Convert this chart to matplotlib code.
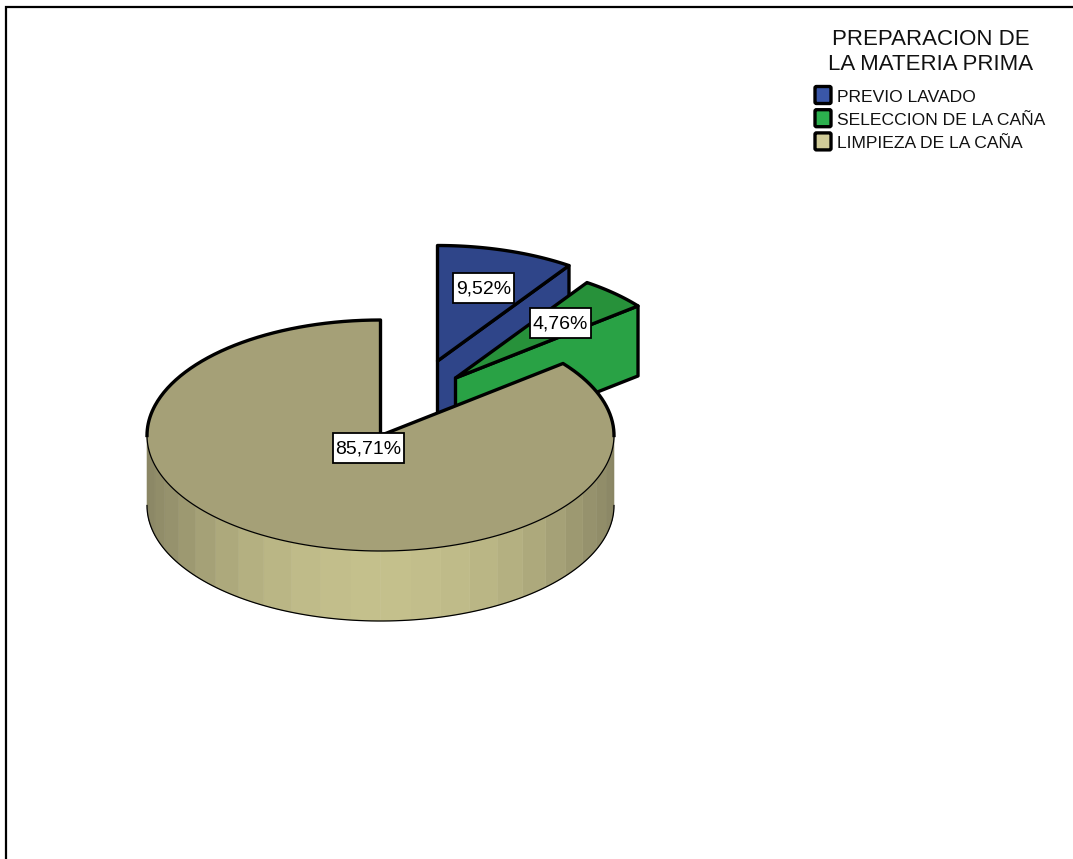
import numpy as np
import matplotlib
matplotlib.use("Agg")
import matplotlib.pyplot as plt
from matplotlib.patches import Polygon, FancyBboxPatch, Rectangle

# --- Data ---
title = "PREPARACION DE\nLA MATERIA PRIMA"
categories = ["PREVIO LAVADO", "SELECCION DE LA CAÑA", "LIMPIEZA DE LA CAÑA"]
shares = [9.52, 4.76, 85.71]

# --- Styles ---
top_colors = ["#2f4589", "#27913a", "#a5a077"]
side_colors = ["#2f4589", "#29a245", "#c4c08c"]
legend_colors = ["#3a57a8", "#2cb04e", "#d0cb98"]
rim_dark = np.array([0x8a, 0x86, 0x64]) / 255
rim_light = np.array([0xc4, 0xc0, 0x8c]) / 255

# --- Layout, in pixels of the 1073x859 picture ---
CX, CY = 380.5, 435.5
RX, RY = 233.5, 115.5
DEPTH = 70
offsets = [(57, -74.5), (75, -57.5), (0, 0)]
label_pos = [(483.5, 288), (560.5, 323), (368.5, 448)]
label_widths = [61, 61, 71]


def arc(start, end, dx=0, dy=0, n=120):
    a = np.radians(np.linspace(start, end, n))
    return np.column_stack((CX + dx + RX * np.sin(a), CY + dy - RY * np.cos(a)))


def point(angle, dx=0, dy=0):
    return arc(angle, angle, dx, dy, 1)[0]


fig = plt.figure(figsize=(10.73, 8.59), dpi=100)
ax = fig.add_axes([0, 0, 1, 1])
ax.set_xlim(0, 1073)
ax.set_ylim(859, 0)
ax.axis("off")

# Frame, open to the right and bottom
ax.plot([6, 6, 1073], [859, 7, 7], color="black", lw=1.6, solid_joinstyle="miter")

edges = np.cumsum([0] + shares) / sum(shares) * 360

# --- Two exploded slices (back to front) ---
for i in range(2):
    dx, dy = offsets[i]
    start, end = edges[i], edges[i + 1]
    apex = np.array([CX + dx, CY + dy])
    outer = point(end, dx, dy)
    # cut face on the clockwise side
    face = [apex, outer, outer + [0, DEPTH], apex + [0, DEPTH]]
    ax.add_patch(Polygon(face, closed=True, fc=side_colors[i], ec="black", lw=2.4,
                         joinstyle="round", zorder=2 + i))
    top = np.vstack(([apex], arc(start, end, dx, dy)))
    ax.add_patch(Polygon(top, closed=True, fc=top_colors[i], ec="black", lw=2.4,
                         joinstyle="round", zorder=2 + i))

# --- Large slice: shaded rim in 7.5 degree bands ---
for a0 in np.arange(90, 270, 7.5):
    shade = abs(np.sin(np.radians(a0 + 3.75))) ** 2.2
    color = rim_light + (rim_dark - rim_light) * shade
    lower = arc(a0, a0 + 7.5, n=12)
    band = np.vstack((lower, (lower + [0, DEPTH])[::-1]))
    ax.add_patch(Polygon(band, closed=True, fc=color, ec=color, lw=0.4, zorder=5))

rim_bottom = arc(90, 270) + [0, DEPTH]
ax.plot(rim_bottom[:, 0], rim_bottom[:, 1], color="black", lw=0.9, zorder=6)

# top face, with heavy outline on the back and light outline on the front
start = edges[2]
top = np.vstack(([[CX, CY]], arc(start, 360, n=360)))
ax.add_patch(Polygon(top, closed=True, fc=top_colors[2], ec="none", zorder=7))
front = arc(90, 270)
ax.plot(front[:, 0], front[:, 1], color="black", lw=0.9, zorder=8)
back = np.vstack((arc(270, 360), [[CX, CY]], point(start), arc(start, 90)))
ax.plot(back[:, 0], back[:, 1], color="black", lw=2.4, zorder=8, solid_joinstyle="round")

# --- Value labels ---
for share, (x, y), w in zip(shares, label_pos, label_widths):
    ax.add_patch(Rectangle((x - w / 2, y - 15), w, 30, fc="white", ec="black", lw=1.3, zorder=10))
    ax.text(x, y + 1, f"{share:.2f}%".replace(".", ","), ha="center", va="center",
            family="Liberation Sans", fontsize=14, zorder=11)

# --- Legend ---
ax.text(930.5, 50, title, ha="center", va="center", family="Liberation Sans",
        fontsize=16, linespacing=1.2, color="#111111", position=(930.5, 52))
for i, label in enumerate(categories):
    y = 95 + i * 23.2
    ax.add_patch(FancyBboxPatch((815, y - 8.5), 16, 17, boxstyle="round,pad=0,rounding_size=1.5",
                                fc=legend_colors[i], ec="black", lw=2.4))
    ax.text(837, y + 2, label, ha="left", va="center", family="Liberation Sans",
            fontsize=12.6, color="#111111")

fig.savefig("out.png", dpi=100)
plt.close(fig)
